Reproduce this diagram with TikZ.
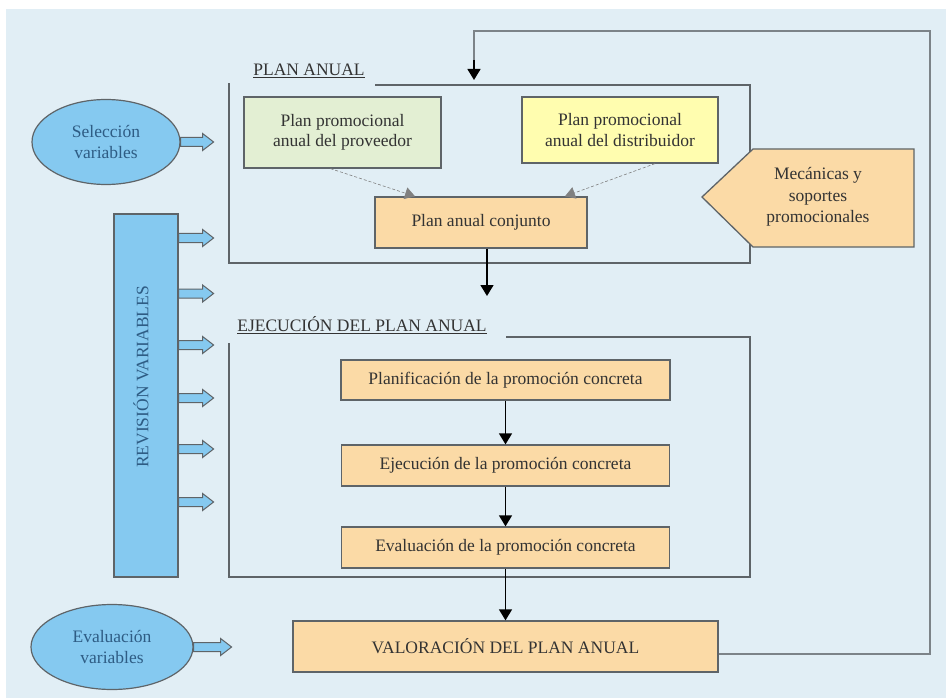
\documentclass[tikz,border=0pt]{standalone}
\usepackage{fontspec}
\setmainfont{Liberation Serif}
\usetikzlibrary{shapes.geometric,arrows.meta}
\definecolor{bgc}{HTML}{E1EEF5}
\definecolor{bluef}{HTML}{85C9F0}
\definecolor{oran}{HTML}{FBDAA6}
\definecolor{greenf}{HTML}{E3EFD3}
\definecolor{yelf}{HTML}{FFFDAF}
\definecolor{linec}{HTML}{5E6468}
\definecolor{fbc}{HTML}{7C8388}
\definecolor{txt}{HTML}{333333}
\definecolor{bluetxt}{HTML}{2E5C84}
\tikzset{
  fnt/.style={font=\fontsize{17.5}{20.5}\selectfont},
  box/.style={draw=linec, line width=1.3pt, fill=oran, text=txt, align=center, inner sep=0pt, fnt},
  oval/.style={ellipse, draw=linec, line width=1.2pt, fill=bluef, text=bluetxt, align=center, inner sep=0pt, fnt},
  harrow/.style={draw=linec, fill=bluef, line width=1pt, line join=miter},
  frame/.style={draw=linec, line width=1.3pt},
  conn/.style={draw=linec, line width=1.4pt, -{Triangle[width=13pt,length=11pt]}, black},
  thinarr/.style={draw=gray, line width=0.6pt, densely dashed, -{Triangle[width=12pt,length=10pt]}},
  lbl/.style={text=txt, inner sep=0pt, fnt}
}
% hollow arrow: #1 start coordinate, #2 total length
\newcommand\hollowarr[2]{%
  \draw[harrow] (#1) ++(0,-4.5) -- ++({#2-11},0) -- ++(0,-4) -- ++(11,8.5) -- ++(-11,8.5) -- ++(0,-4) -- ++({-(#2-11)},0) -- cycle;}
\begin{document}
\begin{tikzpicture}[x=1pt,y=-1pt]
\useasboundingbox (0,0) rectangle (946,698);
\fill[white] (0,0) rectangle (946,698);
\fill[bgc] (6,9) rectangle (946,698);

% frames
\draw[frame] (375,85) -- (750,85) -- (750,263) -- (229,263) -- (229,83);
\draw[frame] (506,337) -- (750,337) -- (750,577) -- (229,577) -- (229,343);
\node[lbl] (lplan) at (309,71) {\underline{PLAN ANUAL}};
\node[lbl] (lejec) at (362,325) {\underline{EJECUCIÓN DEL PLAN ANUAL}};

% boxes
\node[box, fill=greenf, minimum width=197pt, minimum height=71pt] (green) at (342.5,132.5) {Plan promocional\\anual del proveedor};
\node[box, fill=yelf, minimum width=196pt, minimum height=66pt] (yellow) at (620,130) {Plan promocional\\anual del distribuidor};
\node[box, minimum width=212pt, minimum height=51pt] (conj) at (481,222.5) {Plan anual conjunto};
\node[box, minimum width=329pt, minimum height=40pt] (plan) at (505.5,380) {Planificación de la promoción concreta};
\node[box, minimum width=328pt, minimum height=41pt] (ejec) at (505.5,465.5) {Ejecución de la promoción concreta};
\node[box, minimum width=328pt, minimum height=41pt] (eval) at (505.5,547.5) {Evaluación de la promoción concreta};
\node[box, minimum width=425pt, minimum height=51pt] (val) at (505.5,646.5) {VALORACIÓN DEL PLAN ANUAL};

% pentagon
\draw[draw=linec, line width=1.3pt, fill=oran] (702,197) -- (753,149) -- (914,149) -- (914,247) -- (753,247) -- cycle;
\node[lbl, align=center, font=\fontsize{17.5}{21.5}\selectfont] (mec) at (818,197) {Mecánicas y\\soportes\\promocionales};

% blue shapes
\node[oval, minimum width=148pt, minimum height=85pt] (sel) at (106,142) {Selección\\variables};
\node[oval, minimum width=162pt, minimum height=85pt] (ev) at (112,647) {Evaluación\\variables};
\node[draw=linec, line width=1.2pt, fill=bluef, minimum width=64pt, minimum height=363pt, inner sep=0pt] (rev) at (146,395.5) {};
\node[lbl, text=bluetxt, rotate=90] (revt) at (141,377) {REVISIÓN VARIABLES};

% hollow arrows
\hollowarr{sel.east}{33}
\hollowarr{rev.east |- 0,238}{35}
\hollowarr{rev.east |- 0,293.5}{35}
\hollowarr{rev.east |- 0,345}{35}
\hollowarr{rev.east |- 0,398}{35}
\hollowarr{rev.east |- 0,449}{35}
\hollowarr{rev.east |- 0,502}{35}
\hollowarr{ev.east}{38}

% connectors
\draw[thinarr] ([xshift=-12pt]green.south) -- ([xshift=-66pt]conj.north);
\draw[thinarr] ([xshift=35pt]yellow.south) -- ([xshift=84pt]conj.north);
\coordinate (ej) at (487,296);
\draw[conn] ([xshift=6pt]conj.south) -- (ej);
\draw[conn] (plan.south) -- (ejec.north);
\draw[conn] (ejec.south) -- (eval.north);
\draw[conn] (eval.south) -- (val.north);
\coordinate (fb) at (474,80);
\draw[draw=fbc, line width=2pt] ([yshift=-7.5pt]val.east) -- (930,654) -- (930,31) -- (474,31) -- (474,68);
\draw[conn] (474,60) -- (fb);
\end{tikzpicture}
\end{document}
